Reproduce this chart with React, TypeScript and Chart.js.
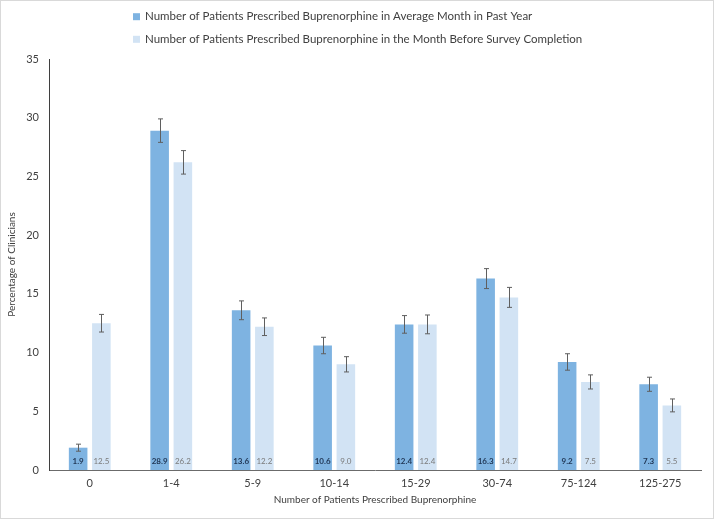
import React, { useEffect, useRef } from 'react';
import { Chart, registerables } from 'chart.js';

Chart.register(...registerables);

const categories = ['0', '1-4', '5-9', '10-14', '15-29', '30-74', '75-124', '125-275'];
const seriesNames = [
  'Number of Patients Prescribed Buprenorphine in Average Month in Past Year',
  'Number of Patients Prescribed Buprenorphine in the Month Before Survey Completion',
];
const avgMonth = [1.9, 28.9, 13.6, 10.6, 12.4, 16.3, 9.2, 7.3];
const avgMonthErr = [0.3, 1.0, 0.8, 0.7, 0.75, 0.85, 0.7, 0.6];
const lastMonth = [12.5, 26.2, 12.2, 9.0, 12.4, 14.7, 7.5, 5.5];
const lastMonthErr = [0.75, 1.0, 0.75, 0.65, 0.8, 0.85, 0.6, 0.55];
const valueLabels = [
  ['1.9', '28.9', '13.6', '10.6', '12.4', '16.3', '9.2', '7.3'],
  ['12.5', '26.2', '12.2', '9.0', '12.4', '14.7', '7.5', '5.5'],
];
const errors = [avgMonthErr, lastMonthErr];

const DARK = '#7eb3e1';
const LIGHT = '#d2e3f4';
const FONT = 'Lato';

const errorBarPlugin = {
  id: 'errorBars',
  afterDatasetsDraw(chart: any) {
    const ctx = chart.ctx;
    const y = chart.scales.y;
    ctx.save();
    ctx.strokeStyle = '#5f5f5f';
    ctx.lineWidth = 1;
    chart.data.datasets.forEach((ds: any, i: number) => {
      const meta = chart.getDatasetMeta(i);
      meta.data.forEach((el: any, j: number) => {
        const v = ds.data[j];
        const e = errors[i][j];
        const top = y.getPixelForValue(v + e);
        const bot = y.getPixelForValue(v - e);
        const x = Math.round(el.x) + 0.5;
        ctx.beginPath();
        ctx.moveTo(x, top);
        ctx.lineTo(x, bot);
        ctx.moveTo(x - 2.5, top);
        ctx.lineTo(x + 2.5, top);
        ctx.moveTo(x - 2.5, bot);
        ctx.lineTo(x + 2.5, bot);
        ctx.stroke();
      });
      ctx.textAlign = 'center';
      ctx.textBaseline = 'middle';
      ctx.font = (i === 0 ? 'bold ' : '') + '8px ' + FONT;
      ctx.fillStyle = i === 0 ? '#1f3553' : '#7a7a7a';
      meta.data.forEach((el: any, j: number) => {
        ctx.fillText(valueLabels[i][j], el.x, chart.chartArea.bottom - 8.5);
      });
    });
    ctx.restore();
  },
};

const legendPlugin = {
  id: 'stackLegend',
  afterDraw(chart: any) {
    const ctx = chart.ctx;
    ctx.save();
    const rows = [15.7, 38.3];
    chart.data.datasets.forEach((ds: any, i: number) => {
      ctx.fillStyle = ds.backgroundColor;
      ctx.fillRect(132, rows[i] - 3.5, 7, 7);
      ctx.fillStyle = '#404040';
      ctx.font = '11.5px ' + FONT;
      ctx.textAlign = 'left';
      ctx.textBaseline = 'middle';
      ctx.fillText(ds.label, 144, rows[i]);
    });
    ctx.restore();
  },
};

export default function App() {
  const ref = useRef<HTMLCanvasElement | null>(null);
  useEffect(() => {
    document.body.style.margin = '0';
    if (!ref.current) return;
    const chart = new Chart(ref.current, {
      type: 'bar',
      data: {
        labels: categories,
        datasets: [
          { label: seriesNames[0], data: avgMonth, backgroundColor: DARK, categoryPercentage: 0.57, barPercentage: 0.8 },
          { label: seriesNames[1], data: lastMonth, backgroundColor: LIGHT, categoryPercentage: 0.57, barPercentage: 0.8 },
        ],
      },
      options: {
        responsive: false,
        animation: false,
        devicePixelRatio: 1,
        layout: { padding: { top: 58, right: 12, left: 0, bottom: 0 } },
        plugins: { legend: { display: false }, tooltip: { enabled: false } },
        scales: {
          x: {
            grid: { display: false, drawTicks: false },
            border: { display: true, color: '#6b6b6b', width: 1 },
            ticks: { color: '#404040', font: { family: FONT, size: 11 }, padding: 7 },
            title: {
              display: true,
              text: 'Number of Patients Prescribed Buprenorphine',
              color: '#404040',
              font: { family: FONT, size: 10 },
              padding: { top: 0, bottom: 12 },
            },
            afterFit: (s: any) => { s.height = 48; },
          },
          y: {
            min: 0,
            max: 35,
            grid: { display: false, drawTicks: false },
            border: { display: true, color: '#3f3f3f', width: 1 },
            ticks: { stepSize: 5, color: '#404040', font: { family: FONT, size: 11 }, padding: 10 },
            title: {
              display: true,
              text: 'Percentage of Clinicians',
              color: '#404040',
              font: { family: FONT, size: 10 },
              padding: { top: 5, bottom: 0 },
            },
            afterFit: (s: any) => { s.width = 48; },
          },
        },
      },
      plugins: [errorBarPlugin, legendPlugin],
    });
    return () => chart.destroy();
  }, []);
  return (
    <div style={{ width: 714, height: 519, border: '1px solid #d9d9d9', boxSizing: 'border-box', background: '#fff' }}>
      <canvas ref={ref} width={712} height={517} style={{ display: 'block', width: 712, height: 517 }} />
    </div>
  );
}
